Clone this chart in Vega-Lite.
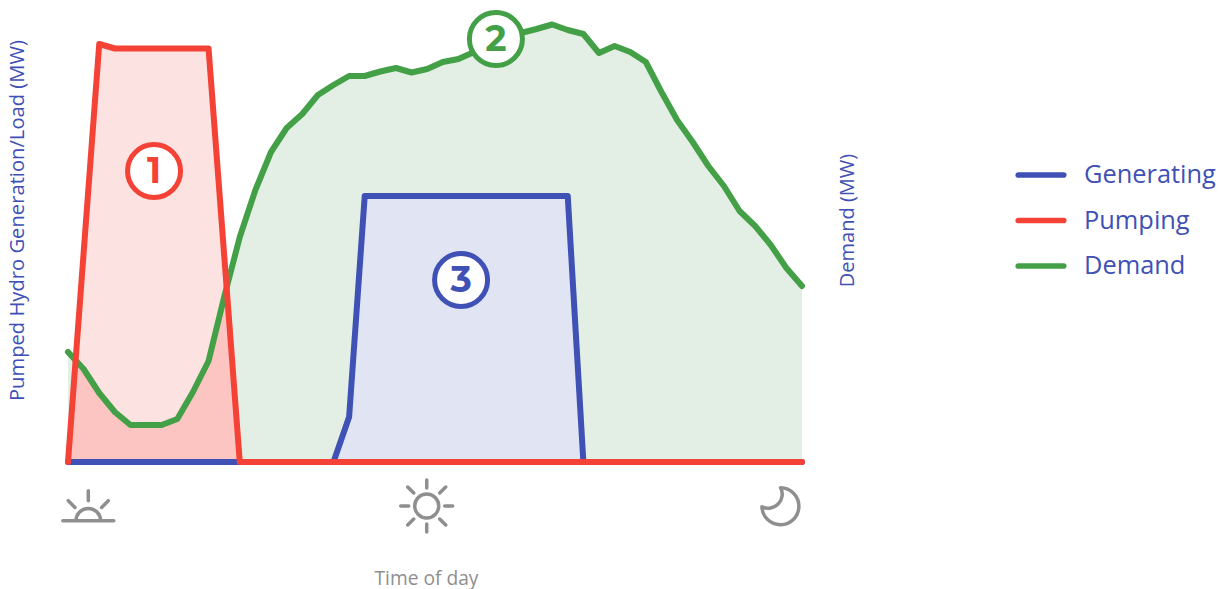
{
"$schema":"https://vega.github.io/schema/vega-lite/v6.json",
"width":734,"height":442,
"autosize":{"type":"none"},
"padding":{"left":68,"top":20,"right":424,"bottom":127},
"background":"white",
"config":{"view":{"stroke":null},"font":"Open Sans"},
"datasets":{
"day":[
{"t":0,"generating":0,"pumping":0,"demand":110},
{"t":1,"generating":0,"pumping":209,"demand":93},
{"t":2,"generating":0,"pumping":418,"demand":69},
{"t":3,"generating":0,"pumping":413.5,"demand":50},
{"t":4,"generating":0,"pumping":413.5,"demand":37},
{"t":5,"generating":0,"pumping":413.5,"demand":37},
{"t":6,"generating":0,"pumping":413.5,"demand":37},
{"t":7,"generating":0,"pumping":413.5,"demand":43},
{"t":8,"generating":0,"pumping":413.5,"demand":70},
{"t":9,"generating":0,"pumping":413.5,"demand":101},
{"t":10,"generating":0,"pumping":207,"demand":165},
{"t":11,"generating":0,"pumping":0,"demand":225},
{"t":12,"generating":0,"pumping":0,"demand":272},
{"t":13,"generating":0,"pumping":0,"demand":310},
{"t":14,"generating":0,"pumping":0,"demand":334},
{"t":15,"generating":0,"pumping":0,"demand":348},
{"t":16,"generating":0,"pumping":0,"demand":367},
{"t":17,"generating":0,"pumping":0,"demand":377},
{"t":18,"generating":45,"pumping":0,"demand":386},
{"t":19,"generating":266,"pumping":0,"demand":386},
{"t":20,"generating":266,"pumping":0,"demand":390.5},
{"t":21,"generating":266,"pumping":0,"demand":394},
{"t":22,"generating":266,"pumping":0,"demand":389.5},
{"t":23,"generating":266,"pumping":0,"demand":393},
{"t":24,"generating":266,"pumping":0,"demand":400},
{"t":25,"generating":266,"pumping":0,"demand":403},
{"t":26,"generating":266,"pumping":0,"demand":410},
{"t":27,"generating":266,"pumping":0,"demand":419},
{"t":28,"generating":266,"pumping":0,"demand":425},
{"t":29,"generating":266,"pumping":0,"demand":429},
{"t":30,"generating":266,"pumping":0,"demand":433},
{"t":31,"generating":266,"pumping":0,"demand":437.5},
{"t":32,"generating":266,"pumping":0,"demand":432},
{"t":33,"generating":0,"pumping":0,"demand":428},
{"t":34,"generating":0,"pumping":0,"demand":409},
{"t":35,"generating":0,"pumping":0,"demand":416},
{"t":36,"generating":0,"pumping":0,"demand":410},
{"t":37,"generating":0,"pumping":0,"demand":400},
{"t":38,"generating":0,"pumping":0,"demand":370},
{"t":39,"generating":0,"pumping":0,"demand":342},
{"t":40,"generating":0,"pumping":0,"demand":320},
{"t":41,"generating":0,"pumping":0,"demand":296},
{"t":42,"generating":0,"pumping":0,"demand":276},
{"t":43,"generating":0,"pumping":0,"demand":251},
{"t":44,"generating":0,"pumping":0,"demand":236},
{"t":45,"generating":0,"pumping":0,"demand":217},
{"t":46,"generating":0,"pumping":0,"demand":194},
{"t":47,"generating":0,"pumping":0,"demand":176}
],
"overlap":[
{"t":0,"mw":0},{"t":0.48,"mw":102},{"t":1,"mw":93},{"t":2,"mw":69},{"t":3,"mw":50},{"t":4,"mw":37},{"t":5,"mw":37},{"t":6,"mw":37},{"t":7,"mw":43},{"t":8,"mw":70},{"t":9,"mw":101},{"t":10,"mw":165},{"t":10.15,"mw":176},{"t":11,"mw":0}
],
"badges":[
{"t":5.51,"mw":291,"label":"1","series":"Pumping"},
{"t":27.4,"mw":423,"label":"2","series":"Demand"},
{"t":25.17,"mw":182,"label":"3","series":"Generating"}
],
"icons":[
{"t":1.3,"mw":-58.7,"icon":"sunrise"},
{"t":22.97,"mw":-44,"icon":"sun"},
{"t":45.63,"mw":-43.7,"icon":"moon"}
]
},
"encoding":{
"x":{"field":"t","type":"quantitative","scale":{"domain":[0,47],"nice":false,"zero":false},
"axis":{"title":"Time of day","labels":false,"ticks":false,"domain":false,"grid":false,"titleFontSize":19.2,"titleFontWeight":"normal","titleColor":"#8f8f8f","titleX":358,"titleY":116,"titleBaseline":"middle","titleAlign":"center"}},
"y":{"field":"mw","type":"quantitative","scale":{"domain":[0,442],"nice":false,"zero":false},"axis":null}
},
"layer":[
{"data":{"name":"day"},"mark":{"type":"area","color":"#e3efe4","clip":false},"encoding":{"y":{"field":"demand","type":"quantitative","axis":{"title":"Pumped Hydro Generation/Load (MW)","orient":"left","labels":false,"ticks":false,"domain":false,"grid":false,"titleFontSize":20.2,"titleFontWeight":"normal","titleColor":"#3f51b5","titleX":-51,"titleY":200,"titleAngle":270,"titleBaseline":"middle","titleAlign":"center"}}}},
{"data":{"name":"day"},"transform":[{"filter":"datum.t <= 11"}],"mark":{"type":"area","color":"#fde2e2"},"encoding":{"y":{"field":"pumping","type":"quantitative","axis":null}}},
{"data":{"name":"overlap"},"mark":{"type":"area","color":"#fcc5c1"}},
{"data":{"name":"day"},"transform":[{"filter":"datum.t >= 17 && datum.t <= 33"}],"mark":{"type":"area","color":"#e1e5f3"},"encoding":{"y":{"field":"generating","type":"quantitative","axis":null}}},
{"data":{"name":"day"},
 "transform":[{"fold":["generating","demand","pumping"],"as":["key","mw"]},{"lookup":"key","from":{"data":{"values":[{"key":"generating","series":"Generating"},{"key":"demand","series":"Demand"},{"key":"pumping","series":"Pumping"}]},"key":"key","fields":["series"]}}],
 "mark":{"type":"line","strokeWidth":6,"strokeCap":"round","strokeJoin":"round"},
 "encoding":{"color":{"field":"series","type":"nominal","scale":{"domain":["Generating","Pumping","Demand"],"range":["#3f51b5","#f44336","#43a047"]},
 "sort":null,
 "legend":{"title":null,"orient":"none","legendX":946,"legendY":145,"symbolType":"M-0.91,-0.04L0.91,-0.04A0.04,0.04 0 0 1 0.91,0.04L-0.91,0.04A0.04,0.04 0 0 1 -0.91,-0.04Z","symbolSize":2500,"symbolStrokeWidth":3.7,"clipHeight":20,"rowPadding":19.5,"labelFontSize":25.4,"labelColor":"#3f51b5","labelOffset":16}}}},
{"data":{"name":"badges"},"mark":{"type":"point","shape":"circle","filled":true,"fill":"white","size":2809,"strokeWidth":5,"opacity":1,"fillOpacity":1,"strokeOpacity":1},
 "encoding":{"stroke":{"field":"series","type":"nominal","legend":null,"scale":{"domain":["Generating","Pumping","Demand"],"range":["#3f51b5","#f44336","#43a047"]}}}},
{"data":{"name":"badges"},"mark":{"type":"text","fontSize":36,"fontWeight":"bold","font":"Montserrat, Open Sans","baseline":"middle","align":"center","dy":1},
 "encoding":{"text":{"field":"label","type":"nominal"},"color":{"field":"series","type":"nominal","legend":null,"scale":{"domain":["Generating","Pumping","Demand"],"range":["#3f51b5","#f44336","#43a047"]}}}},
{"data":{"name":"icons"},"transform":[{"filter":"datum.icon == 'sunrise'"}],"mark":{"type":"point","size":4,"filled":false,"stroke":"#8f8f8f","strokeWidth":3.5,"opacity":1,"strokeCap":"round","shape":"M-25.5,0L25.5,0M-12.3,0A12.3,12.3 0 0 1 12.3,0M0,-30L0,-20M-20,-20L-13.3,-13.3M20,-20L13.3,-13.3"}},
{"data":{"name":"icons"},"transform":[{"filter":"datum.icon == 'sun'"}],"mark":{"type":"point","size":4,"filled":false,"stroke":"#8f8f8f","strokeWidth":3.5,"opacity":1,"strokeCap":"round","shape":"M12,0A12,12 0 1 1 -12,0A12,12 0 1 1 12,0ZM0,-26L0,-18M0,26L0,18M-26,0L-18,0M26,0L18,0M-19,-19L-13,-13M19,-19L13,-13M-19,19L-13,13M19,19L13,13"}},
{"data":{"name":"icons"},"transform":[{"filter":"datum.icon == 'moon'"}],"mark":{"type":"point","size":4,"filled":false,"stroke":"#8f8f8f","strokeWidth":3.5,"opacity":1,"strokeJoin":"round","shape":"M0,-18A18.5,18.5 0 1 1 -18.7,1A14,14 0 0 0 0,-18Z"}},
{"data":{"name":"day"},"mark":{"type":"point","opacity":0},"encoding":{"y":{"field":"demand","type":"quantitative","axis":{"title":"Demand (MW)","orient":"right","labels":false,"ticks":false,"domain":false,"grid":false,"titleFontSize":20,"titleFontWeight":"normal","titleColor":"#3f51b5","titleX":45,"titleY":200,"titleAngle":270,"titleBaseline":"middle","titleAlign":"center"}}}}
],
"resolve":{"axis":{"y":"independent"}}
}
